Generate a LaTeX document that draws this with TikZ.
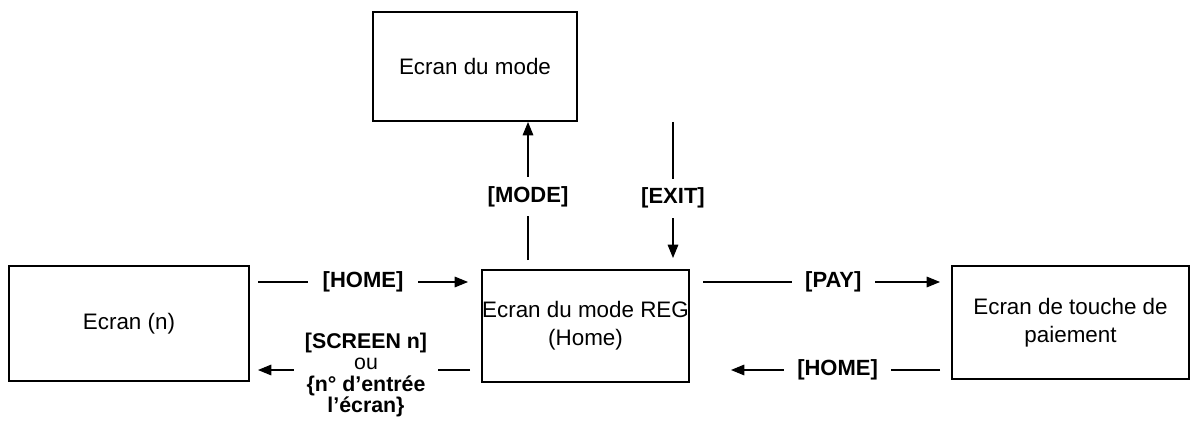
\documentclass[tikz,border=0pt]{standalone}
\usepackage{fontspec}
\setmainfont{Liberation Sans}
\usetikzlibrary{arrows.meta}
\begin{document}
\begin{tikzpicture}[x=0.75pt,y=-0.75pt,
  box/.style={draw,line width=0.9pt,inner sep=0pt,align=center,font=\fontsize{16.8}{21}\selectfont},
  arr/.style={line width=0.8pt,-{Triangle[length=10pt,width=8pt]}},
  lab/.style={fill=white,inner xsep=8pt,inner ysep=1pt,font=\bfseries\fontsize{16.5}{12}\selectfont,align=center}]
\useasboundingbox (0,0) rectangle (1198,431);
\node[box,minimum width=204pt*0.75,minimum height=109pt*0.75] (mode) at (475,66.5) {Ecran du mode};
\node[box,minimum width=240pt*0.75,minimum height=115pt*0.75] (scr) at (129,323.5) {Ecran (n)};
\node[box,minimum width=207pt*0.75,minimum height=112pt*0.75] (reg) at (585.5,326) {Ecran du mode REG\\(Home)};
\node[box,minimum width=237pt*0.75,minimum height=113pt*0.75] (pay) at (1070.5,322.5) {Ecran de touche de\\paiement};
% vertical
\coordinate (m1) at (528,260); \coordinate (m2) at (528,122);
\draw[arr] (m1) -- node[lab,inner ysep=7pt,inner xsep=2pt,pos=0.46]{[MODE]} (m2);
\coordinate (e1) at (673,122); \coordinate (e2) at (673,258);
\draw[arr] (e1) -- node[lab,inner ysep=7pt,inner xsep=2pt,pos=0.56]{[EXIT]} (e2);
% horizontal
\coordinate (h1) at (258,282); \coordinate (h2) at (468,282);
\draw[arr] (h1) -- node[lab,inner xsep=11pt]{[HOME]} (h2);
\coordinate (s1) at (470,370); \coordinate (s2) at (258,370);
\draw[arr] (s1) -- (s2);
\node[lab,inner xsep=8pt,font=\bfseries\fontsize{16}{16}\selectfont] at (366,375) {[SCREEN n]\\{\mdseries ou}\\\{n° d’entrée\\l’écran\}};
\coordinate (p1) at (703,282); \coordinate (p2) at (940,282);
\draw[arr] (p1) -- node[lab,pos=0.55,inner xsep=10pt]{[PAY]} (p2);
\coordinate (b1) at (940,370); \coordinate (b2) at (731,370);
\draw[arr] (b1) -- node[lab,pos=0.49,inner xsep=10pt]{[HOME]} (b2);
\end{tikzpicture}
\end{document}
